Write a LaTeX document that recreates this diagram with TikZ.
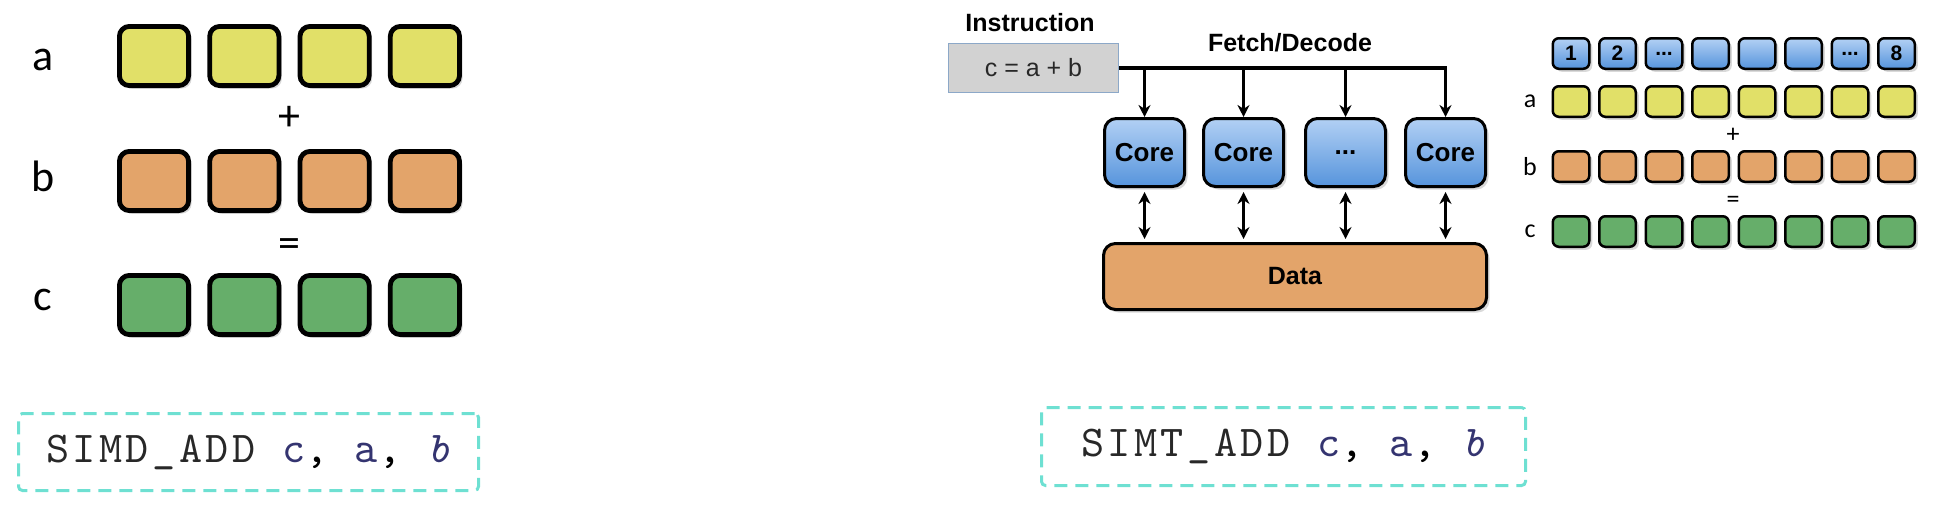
\documentclass[tikz,border=0pt]{standalone}
\usepackage{fontspec}
\setmainfont{Liberation Sans}
\newfontfamily\calibri{Carlito}
\newfontfamily\codefont{lmmono10-regular.otf}[LetterSpace=8,ItalicFont=lmmono10-italic.otf]
\usetikzlibrary{arrows.meta,shadows}
\newcommand{\moredots}{...}
\newcommand{\opline}[1]{{\color{kDark}#1\_ADD} {\color{kNavy}c}, {\color{kNavy}a}, {\color{kNavy}\itshape b}}

\begin{document}
\begin{tikzpicture}[x=0.5pt,y=-0.5pt,
  shade/.style={drop shadow={shadow xshift=1.5pt,shadow yshift=-1.5pt,opacity=0.3}},
  cell/.style={shade,draw=black,line width=2.4pt,rounded corners=5pt,minimum width=34.6pt,minimum height=29.6pt,inner sep=0pt},
  lane/.style={shade,draw=black,line width=1.25pt,rounded corners=3pt,minimum width=18.25pt,minimum height=15.25pt,inner sep=0pt,font=\bfseries\fontsize{10.5}{12}\selectfont},
  core/.style={shade,draw=black,line width=1.5pt,rounded corners=6pt,top color=kBlueTop,bottom color=kBlueBot,minimum width=40pt,minimum height=34pt,inner sep=0pt,font=\bfseries\fontsize{13}{15}\selectfont},
  lbl/.style={inner sep=0pt,font=\calibri\fontsize{22}{26}\selectfont},
  lblsmall/.style={inner sep=0pt,font=\calibri\fontsize{13}{15}\selectfont},
  title/.style={inner sep=0pt,font=\bfseries\fontsize{12.5}{15}\selectfont},
  code/.style={draw=kTeal,line width=1.5pt,dash pattern=on 6.5pt off 4pt,rounded corners=2pt,inner sep=0pt,font=\codefont\fontsize{22}{26}\selectfont},
  wire/.style={line width=1.6pt,draw=black},
  tip/.style={-{Stealth[length=6pt,width=6pt]}},
  tips/.style={{Stealth[length=6pt,width=6pt]}-{Stealth[length=6pt,width=6pt]}}]
  % colors
  \definecolor{kYellow}{RGB}{225,224,104}
  \definecolor{kOrange}{RGB}{227,164,106}
  \definecolor{kGreen}{RGB}{102,174,106}
  \definecolor{kBlueTop}{RGB}{178,208,244}
  \definecolor{kBlueBot}{RGB}{86,148,220}
  \definecolor{kGrey}{RGB}{210,210,210}
  \definecolor{kFrame}{RGB}{140,168,200}
  \definecolor{kTeal}{RGB}{110,224,210}
  \definecolor{kNavy}{RGB}{52,52,112}
  \definecolor{kDark}{RGB}{40,40,40}
  \useasboundingbox (0,0) rectangle (1942,510);
  % SIMD lanes
  \foreach \r/\y/\ly/\c in {a/56/60/kYellow, b/181/176/kOrange, c/305/300/kGreen} {
    \node[lbl] (l\r) at (43,\ly) {\r};
    \foreach \i in {0,...,3}
      \node[cell,fill=\c] (\r\i) at ({154+90.3*\i},\y) {};
  }
  \node[lbl] (plus) at (289,118) {+};
  \node[lbl] (eq) at (289,248) {=};
  \node[code,minimum width=230pt,minimum height=38.5pt] (simd) at (248.5,452) {\opline{SIMD}};
  % SIMT cores
  \node[title] (instlbl) at (1030,23) {Instruction};
  \node[draw=kFrame,line width=0.6pt,fill=kGrey,minimum width=85pt,minimum height=24.5pt,inner sep=0pt,font=\fontsize{12.5}{15}\selectfont,text=kDark] (instr) at (1033.5,68) {c = a + b};
  \node[title] (fetch) at (1290,43) {Fetch/Decode};
  \foreach \n/\x/\t in {1/1144.5/Core, 2/1243.5/Core, 3/1345.5/\moredots, 4/1445.5/Core}
    \node[core] (core\n) at (\x,152.5) {\t};
  \node[shade,draw=black,line width=1.5pt,rounded corners=6pt,fill=kOrange,minimum width=191.5pt,minimum height=33pt,font=\bfseries\fontsize{12.5}{15}\selectfont] (data) at (1295,276.5) {Data};
  \draw[wire,tip] (instr.east) -- (core4.north |- instr.east) -- (core4.north);
  \foreach \n in {1,2,3}
    \draw[wire,tip] (core\n.north |- instr.east) -- (core\n.north);
  \foreach \n in {1,...,4}
    \draw[wire,tips,shorten <=2pt,shorten >=1.5pt] (core\n.south) -- (core\n.south |- data.north);
  % SIMT lanes
  \foreach \i/\t in {0/1, 1/2, 2/\moredots, 3/{}, 4/{}, 5/{}, 6/\moredots, 7/8}
    \node[lane,top color=kBlueTop,bottom color=kBlueBot] (t\i) at ({1571+46.5*\i},53.5) {\t};
  \foreach \r/\y/\c in {a/101.5/kYellow, b/166.5/kOrange, c/231.5/kGreen} {
    \node[lblsmall] (m\r) at (1530,\y) {\r};
    \foreach \i in {0,...,7}
      \node[lane,fill=\c] (r\r\i) at ({1571+46.5*\i},\y) {};
  }
  \node[lblsmall] (rplus) at (1733,135) {+};
  \node[lblsmall] (req) at (1733,202) {=};
  \node[code,minimum width=242pt,minimum height=39pt] (simt) at (1283.5,446.5) {\opline{SIMT}};
\end{tikzpicture}
\end{document}
